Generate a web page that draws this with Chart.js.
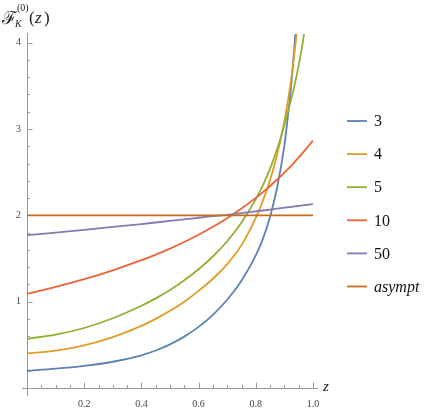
<!DOCTYPE html>
<html>
<head>
<meta charset="utf-8">
<script src="https://cdn.jsdelivr.net/npm/chart.js@4.4.1/dist/chart.umd.min.js"></script>
<style>
  html, body { margin: 0; padding: 0; background: #fff; }
</style>
</head>
<body>
<canvas id="plot" width="436" height="409"></canvas>
<script>
// values
const zValues = [0, 0.1, 0.2, 0.3, 0.4, 0.45, 0.5, 0.55, 0.6, 0.65, 0.7, 0.75, 0.8, 0.825, 0.85, 0.875, 0.9, 0.91, 0.92, 0.93, 0.94, 0.95, 0.96, 0.97, 0.98, 1.0];
const seriesLabels = ['3', '4', '5', '10', '50', 'asympt'];
const k3 = [0.2, 0.224, 0.257, 0.304, 0.379, 0.434, 0.505, 0.595, 0.708, 0.848, 1.022, 1.243, 1.535, 1.73, 1.984, 2.328, 2.81, 3.08, 3.38, 3.74, 4.2, 4.8, null, null, null, null];
const k4 = [0.4, 0.432, 0.495, 0.59, 0.72, 0.801, 0.895, 1.0, 1.125, 1.265, 1.435, 1.655, 1.97, 2.17, 2.41, 2.71, 3.09, 3.28, 3.49, 3.74, 4.02, 4.34, null, null, null, null];
const k5 = [0.57, 0.618, 0.695, 0.808, 0.953, 1.038, 1.135, 1.248, 1.375, 1.523, 1.70, 1.918, 2.188, 2.35, 2.541, 2.77, 3.045, 3.17, 3.295, 3.43, 3.575, 3.74, 3.915, 4.13, 4.355, null];
const k10 = [1.09, 1.17, 1.26, 1.363, 1.48, 1.545, 1.615, 1.691, 1.775, 1.867, 1.967, 2.078, 2.202, 2.269, 2.34, 2.415, 2.495, 2.528, 2.562, 2.597, 2.633, 2.67, 2.708, 2.746, 2.785, 2.865];
const k50 = [1.77, 1.8, 1.832, 1.865, 1.899, 1.917, 1.935, 1.953, 1.972, 1.99, 2.006, 2.025, 2.046, 2.056, 2.067, 2.077, 2.088, 2.092, 2.096, 2.1, 2.105, 2.109, 2.113, 2.117, 2.122, 2.13];
const asympt = zValues.map(() => 2);
const xTicks = [0.2, 0.4, 0.6, 0.8, 1.0];
const yTicks = [1, 2, 3, 4];

const colors = ['#5e81b5', '#e19c24', '#8fb032', '#eb6235', '#8778b3', '#c56e1a'];
const allSeries = [k3, k4, k5, k10, k50, asympt];

const serif = '"Liberation Serif", "DejaVu Serif", serif';
const axisGray = '#9a9a9a';

const datasets = allSeries.map((vals, i) => ({
  label: seriesLabels[i],
  data: zValues.map((z, j) => ({ x: z, y: vals[j] })),
  borderColor: colors[i],
  borderWidth: 1.8,
  pointRadius: 0,
  fill: false,
  cubicInterpolationMode: 'monotone',
  spanGaps: false,
  order: allSeries.length - i
}));

// Mathematica-style axes through the origin, inward ticks, legend on the right
const mmaAxes = {
  id: 'mmaAxes',
  beforeDatasetsDraw(chart) {
    const ctx = chart.ctx;
    const xs = chart.scales.x, ys = chart.scales.y;
    const x0 = xs.getPixelForValue(0), y0 = ys.getPixelForValue(0);
    ctx.save();
    ctx.strokeStyle = axisGray;
    ctx.lineWidth = 1;
    ctx.beginPath();
    ctx.moveTo(x0 - 5, y0 + 0.5); ctx.lineTo(xs.getPixelForValue(1) + 5, y0 + 0.5);
    ctx.moveTo(x0 + 0.5, y0 + 8); ctx.lineTo(x0 + 0.5, chart.chartArea.top - 1);
    for (let i = 1; i <= 20; i++) {
      const v = i * 0.05;
      const px = Math.round(xs.getPixelForValue(v)) + 0.5;
      const len = (i % 4 === 0) ? 5.5 : 3;
      ctx.moveTo(px, y0); ctx.lineTo(px, y0 - len);
    }
    for (let i = 1; i <= 20; i++) {
      const v = i * 0.2;
      const py = Math.round(ys.getPixelForValue(v)) + 0.5;
      const len = (i % 5 === 0) ? 5.5 : 3;
      ctx.moveTo(x0, py); ctx.lineTo(x0 + len, py);
    }
    ctx.stroke();
    ctx.restore();
  },
  afterDraw(chart) {
    const ctx = chart.ctx;
    const xs = chart.scales.x, ys = chart.scales.y;
    ctx.save();
    ctx.fillStyle = '#222';
    ctx.textBaseline = 'middle';
    // axis label z
    ctx.font = 'italic 15px ' + serif;
    ctx.fillText('z', xs.getPixelForValue(1) + 10, ys.getPixelForValue(0) - 1);
    // y label F_K^(0)(z)
    ctx.textBaseline = 'alphabetic';
    ctx.font = '18px ' + serif;
    ctx.fillText('\u2131', 2, 24);
    ctx.font = 'italic 10px ' + serif;
    ctx.fillText('K', 15, 27);
    ctx.font = '10px ' + serif;
    ctx.fillText('(0)', 17, 11);
    ctx.font = '17px ' + serif;
    ctx.fillText('(', 29, 23);
    ctx.font = 'italic 17px ' + serif;
    ctx.fillText('z', 35, 23);
    ctx.font = '17px ' + serif;
    ctx.fillText(')', 44, 23);
    // legend
    ctx.textBaseline = 'middle';
    chart.data.datasets.forEach((ds, i) => {
      const y = 121 + i * 33.1;
      ctx.strokeStyle = ds.borderColor;
      ctx.lineWidth = 1.8;
      ctx.beginPath();
      ctx.moveTo(347, y); ctx.lineTo(367, y);
      ctx.stroke();
      ctx.fillStyle = '#111';
      ctx.font = (ds.label === 'asympt' ? 'italic ' : '') + '16px ' + serif;
      ctx.fillText(ds.label, 374, y + 1);
    });
    ctx.restore();
  }
};

new Chart(document.getElementById('plot').getContext('2d'), {
  type: 'line',
  data: { datasets },
  options: {
    responsive: false,
    animation: false,
    devicePixelRatio: 1,
    layout: { padding: { top: 34, right: 123, left: 0, bottom: 0 } },
    plugins: { legend: { display: false }, tooltip: { enabled: false } },
    scales: {
      x: {
        type: 'linear', min: 0, max: 1,
        afterFit: s => { s.height = 21; },
        grid: { display: false, drawTicks: false },
        border: { display: false },
        afterBuildTicks: s => { s.ticks = xTicks.map(v => ({ value: v })); },
        ticks: {
          padding: 10,
          color: '#444',
          font: { family: serif, size: 10 },
          maxRotation: 0,
          callback: v => Number(v).toFixed(1)
        }
      },
      y: {
        type: 'linear', min: 0, max: 4.1,
        afterFit: s => { s.width = 27; },
        grid: { display: false, drawTicks: false },
        border: { display: false },
        afterBuildTicks: s => { s.ticks = yTicks.map(v => ({ value: v })); },
        ticks: {
          padding: 6,
          color: '#444',
          font: { family: serif, size: 10 },
          callback: v => String(v)
        }
      }
    }
  },
  plugins: [mmaAxes]
});
</script>
</body>
</html>
